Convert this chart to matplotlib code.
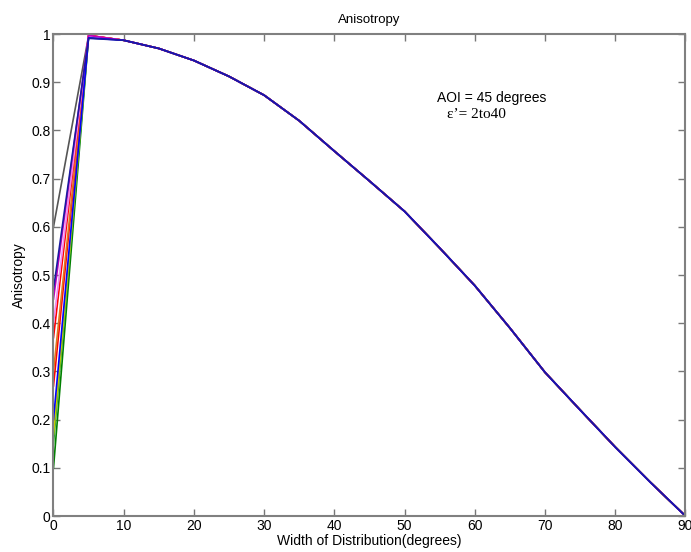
import matplotlib
matplotlib.use("Agg")
import matplotlib.pyplot as plt
from matplotlib.ticker import FormatStrFormatter

plt.rcParams['font.family'] = ['Liberation Sans', 'DejaVu Sans']

# width of distribution (degrees)
width = [0, 5, 10, 15, 20, 25, 30, 35, 40, 45, 50, 55, 60, 65, 70, 75, 80, 85, 90]

# shared tail of every curve (x = 10 .. 90)
tail = [0.987, 0.970, 0.945, 0.912, 0.873, 0.820, 0.757, 0.695, 0.632,
        0.556, 0.478, 0.390, 0.298, 0.220, 0.143, 0.070, 0.0]

# start value at x=0 and peak at x=5 for each epsilon' curve
start = [0.60, 0.10, 0.15, 0.17, 0.27, 0.30, 0.37, 0.40, 0.45, 0.20, 0.47]
peak = [0.996, 0.995, 0.996, 0.997, 0.997, 0.996, 0.997, 0.996, 0.997, 0.992, 0.991]
colors = ['#555555', 'g', '#33aa33', '#cccc00', 'r', '#dd7722', 'r', '#ee88ee',
          'm', 'b', '#1a1aa0']

fig = plt.figure(figsize=(6.91, 5.52), dpi=100)
ax = fig.add_axes([0.0774, 0.0652, 0.9146, 0.8732])

for s, p, c in zip(start, peak, colors):
    ax.plot(width, [s, p] + tail, color=c, linewidth=1.2)

ax.set_xlim(0, 90)
ax.set_ylim(0, 1)
ax.set_xticks(range(0, 91, 10))
ax.set_yticks([i / 10 for i in range(11)])
ax.yaxis.set_major_formatter(FormatStrFormatter('%g'))
ax.tick_params(direction='in', top=True, right=True, length=5, width=1,
               color='#777777', labelsize=10, pad=2)
for sp in ax.spines.values():
    sp.set_color('#808080')
    sp.set_linewidth(1.5)

ax.set_title('Anisotropy', fontsize=9.5, pad=8)
ax.set_xlabel('Width of Distribution(degrees)', fontsize=10, labelpad=1)
ax.set_ylabel('Anisotropy', fontsize=10, labelpad=4)

ax.text(54.6, 0.867, 'AOI = 45 degrees', fontsize=10, va='center')
ax.text(56.0, 0.832, 'ε’= 2to40', fontsize=11, va='center',
        family=['Liberation Serif', 'DejaVu Serif'])

fig.savefig('out.png', dpi=100)
